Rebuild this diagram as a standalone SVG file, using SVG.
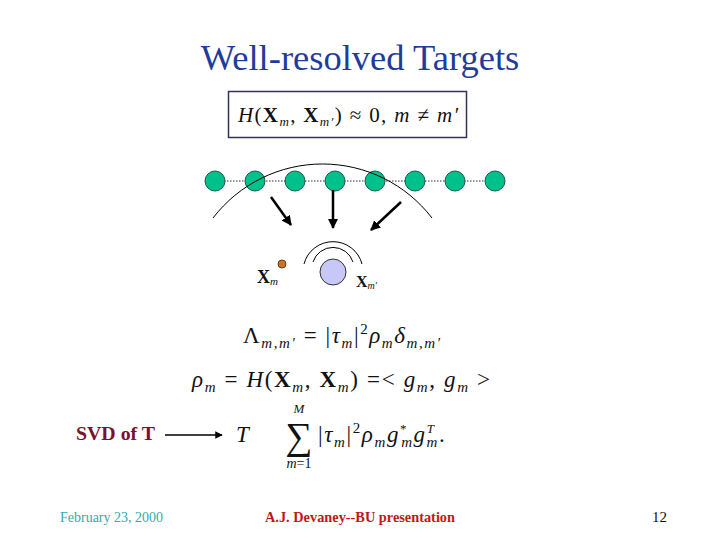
<svg xmlns="http://www.w3.org/2000/svg" width="720" height="540" viewBox="0 0 720 540">
<defs>
<marker id="ah" viewBox="0 0 10 10" refX="9" refY="5" markerWidth="4" markerHeight="4" orient="auto" markerUnits="strokeWidth">
<path d="M0,0 L10,5 L0,10 z" fill="#000"/>
</marker>
<marker id="ah2" viewBox="0 0 10 10" refX="9" refY="5" markerWidth="6" markerHeight="5" orient="auto" markerUnits="strokeWidth">
<path d="M0,0 L10,5 L0,10 z" fill="#000"/>
</marker>
</defs>
<style>
.math{font-family:"Liberation Serif","DejaVu Serif",serif;font-style:italic;fill:#111}
.up{font-style:normal}
.bf{font-style:normal;font-weight:bold}
.ant{fill:#00C08C;stroke:#1a5a48;stroke-width:1}
.conn{stroke:#000;stroke-width:2.5;fill:none}
</style>
<rect width="720" height="540" fill="#fff"/>
<text x="360" y="70" text-anchor="middle" font-family="Liberation Serif, serif" font-size="36.5" fill="#1F3C9C">Well-resolved Targets</text>

<g id="formula-box">
<rect x="228.5" y="91.5" width="238" height="46" fill="#fff" stroke="#33335a" stroke-width="1.5"/>
<text class="math" x="238" y="122" font-size="21" textLength="220" lengthAdjust="spacing">H<tspan class="up">(</tspan><tspan class="bf">X</tspan><tspan font-size="13" dy="4">m</tspan><tspan class="up" dy="-4">, </tspan><tspan class="bf">X</tspan><tspan font-size="13" dy="4">m′</tspan><tspan class="up" dy="-4">) ≈ 0,  </tspan>m <tspan class="up">≠</tspan> m′</text>
</g>

<g id="array">
<line x1="215" y1="181" x2="495" y2="181" stroke="#333" stroke-width="1" stroke-dasharray="1.5,1.5"/>
<circle class="ant" cx="215" cy="181" r="10"/>
<circle class="ant" cx="255" cy="181" r="10"/>
<circle class="ant" cx="295" cy="181" r="10"/>
<circle class="ant" cx="335" cy="181" r="10"/>
<circle class="ant" cx="375" cy="181" r="10"/>
<circle class="ant" cx="415" cy="181" r="10"/>
<circle class="ant" cx="455" cy="181" r="10"/>
<circle class="ant" cx="495" cy="181" r="10"/>
</g>

<path id="wavefront" d="M213,218 A138,138 0 0 1 432,218" fill="none" stroke="#000" stroke-width="1"/>

<g id="connectors">
<line class="conn" x1="271" y1="197" x2="291" y2="225" marker-end="url(#ah)"/>
<line class="conn" x1="333" y1="190" x2="333" y2="228" marker-end="url(#ah)"/>
<line class="conn" x1="401" y1="202" x2="371" y2="230" marker-end="url(#ah)"/>
<line x1="165" y1="435" x2="222" y2="435" stroke="#000" stroke-width="1.5" marker-end="url(#ah2)"/>
</g>

<g id="target-m-prime">
<path d="M313,262 A21,21 0 0 1 353,262" fill="none" stroke="#000" stroke-width="1"/>
<path d="M304,264 A30,30 0 0 1 362,264" fill="none" stroke="#000" stroke-width="1"/>
<circle cx="333" cy="272" r="13" fill="#C8C8F8" stroke="#333" stroke-width="1"/>
<text class="math" x="356" y="287" font-size="16"><tspan class="bf">X</tspan><tspan font-size="10" dy="2">m′</tspan></text>
</g>

<g id="target-m">
<circle cx="282" cy="264" r="4" fill="#C8742C" stroke="#6a3a10" stroke-width="1"/>
<text class="math" x="257" y="283" font-size="18"><tspan class="bf">X</tspan><tspan font-size="11" dy="2">m</tspan></text>
</g>

<text class="math" x="243" y="343" font-size="23" textLength="197" lengthAdjust="spacing"><tspan class="up">Λ</tspan><tspan font-size="15" dy="5">m,m′</tspan><tspan class="up" dy="-5"> = |</tspan>τ<tspan font-size="15" dy="5">m</tspan><tspan class="up" dy="-5">|</tspan><tspan class="up" font-size="15" dy="-9">2</tspan><tspan dy="9">ρ</tspan><tspan font-size="15" dy="5">m</tspan><tspan dy="-5">δ</tspan><tspan font-size="15" dy="5">m,m′</tspan></text>

<text class="math" x="192" y="387" font-size="23" textLength="298" lengthAdjust="spacing">ρ<tspan font-size="15" dy="5">m</tspan><tspan class="up" dy="-5"> = </tspan>H<tspan class="up">(</tspan><tspan class="bf">X</tspan><tspan font-size="15" dy="5">m</tspan><tspan class="up" dy="-5">, </tspan><tspan class="bf">X</tspan><tspan font-size="15" dy="5">m</tspan><tspan class="up" dy="-5">) =&lt; </tspan>g<tspan font-size="15" dy="5">m</tspan><tspan class="up" dy="-5">, </tspan>g<tspan font-size="15" dy="5">m</tspan><tspan class="up" dy="-5"> &gt;</tspan></text>

<text x="76" y="440" font-family="Liberation Serif, serif" font-weight="bold" font-size="19" fill="#7B1030" textLength="79" lengthAdjust="spacingAndGlyphs">SVD of T</text>

<g id="svd-formula">
<text class="math" x="236" y="442" font-size="23">T</text>
<text class="math" x="299" y="413" font-size="13" text-anchor="middle">M</text>
<text x="299" y="449" font-family="Liberation Serif, DejaVu Serif, serif" font-size="38" text-anchor="middle" fill="#111">∑</text>
<text class="math" x="299" y="468" font-size="14" text-anchor="middle">m<tspan class="up">=1</tspan></text>
<text class="math" x="318" y="442" font-size="23" letter-spacing="1.6"><tspan class="up">|</tspan>τ<tspan font-size="15" dy="5">m</tspan><tspan class="up" dy="-5">|</tspan><tspan class="up" font-size="15" dy="-9">2</tspan><tspan dy="9">ρ</tspan><tspan font-size="15" dy="5">m</tspan><tspan dy="-5">g</tspan><tspan font-size="13" dy="-9" class="up">*</tspan><tspan font-size="15" dx="-7" dy="14">m</tspan><tspan dy="-5">g</tspan><tspan font-size="13" dy="-9">T</tspan><tspan font-size="15" dx="-9" dy="14">m</tspan><tspan class="up" dy="-5">.</tspan></text>
</g>

<text x="60" y="522" font-family="Liberation Serif, serif" font-size="15" fill="#33AAA8" textLength="103" lengthAdjust="spacingAndGlyphs">February 23, 2000</text>
<text x="265" y="522" font-family="Liberation Serif, serif" font-weight="bold" font-size="15" fill="#C01818" textLength="190" lengthAdjust="spacingAndGlyphs">A.J. Devaney--BU  presentation</text>
<text x="667" y="522" text-anchor="end" font-family="Liberation Serif, serif" font-size="15" fill="#111">12</text>
</svg>
